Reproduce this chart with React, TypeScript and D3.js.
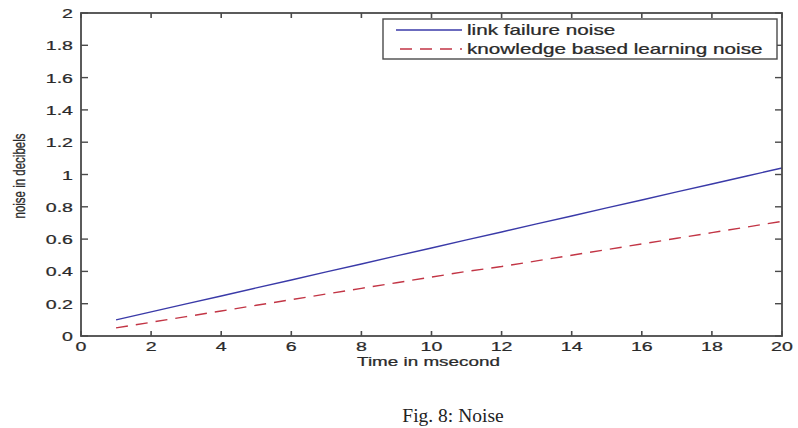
import React from "react";
import * as d3 from "d3";

const time = [1, 2, 3, 4, 5, 6, 7, 8, 9, 10, 11, 12, 13, 14, 15, 16, 17, 18, 19, 20];
const linkFailureNoise = [0.100, 0.149, 0.199, 0.248, 0.298, 0.347, 0.397, 0.446, 0.496, 0.545, 0.595, 0.644, 0.694, 0.743, 0.793, 0.842, 0.892, 0.941, 0.991, 1.040];
const knowledgeNoise = [0.05, 0.085, 0.12, 0.155, 0.19, 0.225, 0.26, 0.295, 0.33, 0.365, 0.40, 0.43, 0.465, 0.50, 0.535, 0.57, 0.605, 0.64, 0.675, 0.71];
const xTicks = [0, 2, 4, 6, 8, 10, 12, 14, 16, 18, 20];
const yTicks = [0, 0.2, 0.4, 0.6, 0.8, 1, 1.2, 1.4, 1.6, 1.8, 2];
const seriesNames = ["link failure noise", "knowledge based learning noise"];

const W = 798;
const H = 428;
const left = 81, right = 782, top = 13, bottom = 336;
const SX = 1.45; // the scanned figure is stretched sideways
const axisColor = "#4a4a4a";
const blue = "#3a3aa8";
const red = "#c23545";
const font = "Liberation Sans, Arial, sans-serif";

function StretchText(props: { x: number; y: number; anchor?: string; size?: number; sx?: number; children: any }) {
    const { x, y, anchor = "start", size = 14, sx = SX, children } = props;
    return (
        <text transform={`translate(${x},${y}) scale(${sx},1)`} textAnchor={anchor}
            fontFamily={font} fontSize={size} fill="#2a2a2a" stroke="#2a2a2a" strokeWidth={0.25}>{children}</text>
    );
}

export default function App() {
    const x = d3.scaleLinear().domain([0, 20]).range([left, right]);
    const y = d3.scaleLinear().domain([0, 2]).range([bottom, top]);

    const line = d3.line<number>().x((d, i) => x(time[i])).y(d => y(d));

    let fmt = (v: number) => (v === 0 ? "0" : d3.format("~g")(v));

    return (
        <svg width={W} height={H} style={{ position: "absolute", left: 0, top: 0, background: "#fff" }}>
            <rect x={0} y={0} width={W} height={H} fill="#fff" />

            <path d={line(linkFailureNoise) || ""} fill="none" stroke={blue} strokeWidth={1.4} />
            <path d={line(knowledgeNoise) || ""} fill="none" stroke={red} strokeWidth={1.4} strokeDasharray="12,8" />

            {/* box */}
            <rect x={left} y={top} width={right - left} height={bottom - top} fill="none" stroke={axisColor} strokeWidth={1.8} />

            {xTicks.map(t => (
                <g key={"x" + t}>
                    <line x1={x(t)} x2={x(t)} y1={bottom} y2={bottom - 5} stroke={axisColor} strokeWidth={1.6} />
                    <line x1={x(t)} x2={x(t)} y1={top} y2={top + 5} stroke={axisColor} strokeWidth={1.6} />
                    <StretchText x={x(t)} y={351} anchor="middle" size={13.5}>{fmt(t)}</StretchText>
                </g>
            ))}
            {yTicks.map(t => (
                <g key={"y" + t}>
                    <line x1={left} x2={left + 7} y1={y(t)} y2={y(t)} stroke={axisColor} strokeWidth={1.4} />
                    <line x1={right} x2={right - 7} y1={y(t)} y2={y(t)} stroke={axisColor} strokeWidth={1.4} />
                    <StretchText x={73} y={y(t) + 5} anchor="end" size={13.5}>{fmt(t)}</StretchText>
                </g>
            ))}

            <StretchText x={(left + right) / 2 - 3} y={366} anchor="middle" size={13}>Time in msecond</StretchText>
            <text transform={`translate(25,176) rotate(-90) scale(1,${SX})`} textAnchor="middle"
                fontFamily={font} fontSize={11.5} fill="#2a2a2a" stroke="#2a2a2a" strokeWidth={0.2}>noise in decibels</text>

            {/* legend */}
            <rect x={383} y={19} width={394} height={40} fill="#fff" stroke={axisColor} strokeWidth={1.4} />
            <line x1={396} x2={462} y1={30} y2={30} stroke={blue} strokeWidth={1.4} />
            <line x1={400} x2={462} y1={49} y2={49} stroke={red} strokeWidth={1.4} strokeDasharray="12,8" />
            <StretchText x={467} y={35} size={13.8} sx={1.5}>{seriesNames[0]}</StretchText>
            <StretchText x={467} y={54} size={13.8} sx={1.5}>{seriesNames[1]}</StretchText>

            <text x={453} y={422} textAnchor="middle" fontFamily="Liberation Serif, Times New Roman, serif"
                fontSize={19.5} fill="#222">Fig. 8: Noise</text>
        </svg>
    );
}
